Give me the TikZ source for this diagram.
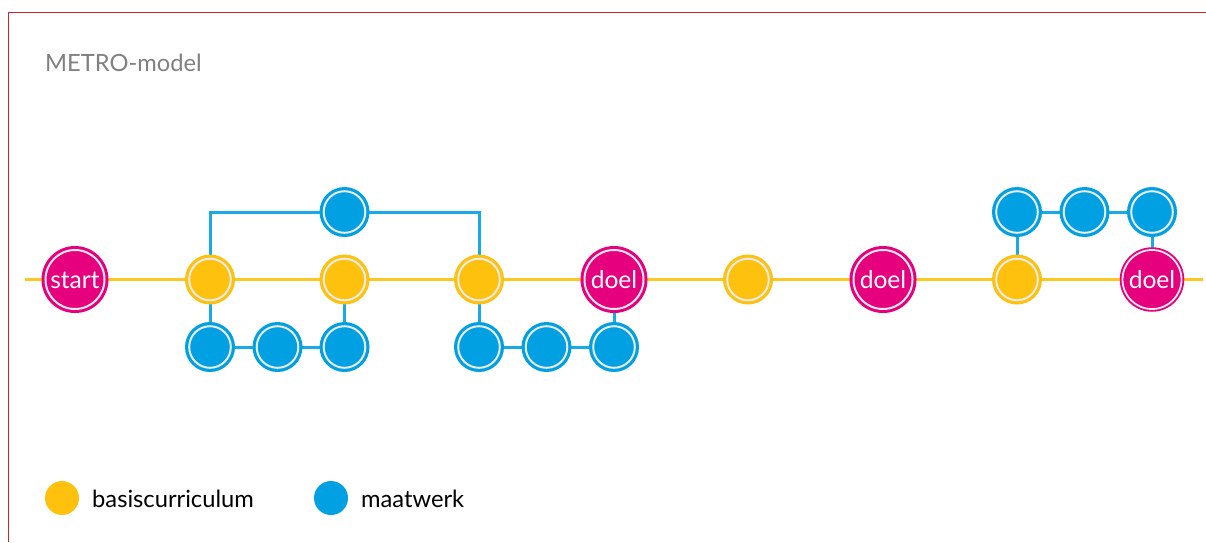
\documentclass[tikz,border=0pt]{standalone}
\usepackage{fontspec}
\setmainfont{Lato}
\usetikzlibrary{backgrounds}
\definecolor{geel}{HTML}{FDC10E}
\definecolor{blauw}{HTML}{00A0E3}
\definecolor{roze}{HTML}{E6007E}
\definecolor{ring}{HTML}{EAEAEA}
\definecolor{rand}{HTML}{D2232A}
\newcommand\halttekst[1]{\raisebox{0pt}[18.4pt][0pt]{#1}}
\tikzset{
  x=1pt,y=-1pt,
  halte/.style={circle,inner sep=0pt,minimum size=#1,line width=0pt,text=white,font=\fontsize{24.6}{26}\selectfont},
  basis/.style={halte=50pt,fill=geel,path picture={\draw[ring,line width=2pt] (path picture bounding box.center) circle (20.8pt);}},
  maat/.style={halte=50pt,fill=blauw,path picture={\draw[ring,line width=2pt] (path picture bounding box.center) circle (20.8pt);}},
  doelnode/.style={halte=67pt,fill=roze,path picture={\draw[ring,line width=2pt] (path picture bounding box.center) circle (29.5pt);}},
  doellaatst/.style={halte=64.5pt,fill=roze,path picture={\draw[ring,line width=1.8pt] (path picture bounding box.center) circle (29.5pt);}},
  hoofd/.style={geel!92!white,line width=3pt},
  zij/.style={blauw!90!white,line width=3pt},
  stip/.style={circle,inner sep=0pt,minimum size=34pt},
  tekst/.style={inner sep=0pt,anchor=base west,font=\fontsize{23.7}{26}\selectfont}
}
\begin{document}
\begin{tikzpicture}
\useasboundingbox (0,0) rectangle (1206,542);
\draw[rand,line width=1pt] (1206,12) -- (8.5,12) -- (8.5,542);
\node[tekst,text=black!50] (titel) at (45,71) {METRO-model};
\coordinate (links) at (25,279.5);
\coordinate (rechts) at (1203,279.5);
\node[doelnode] (start) at (75,279.5) {\halttekst{start}};
\node[basis] (g1) at (210,279.5) {};
\node[basis] (g2) at (344.5,279.5) {};
\node[basis] (g3) at (479,279.5) {};
\node[doelnode] (d1) at (614,279.5) {\halttekst{doel}};
\node[basis] (g4) at (748,279.5) {};
\node[doelnode] (d2) at (883,279.5) {\halttekst{doel}};
\node[basis] (g5) at (1017,279.5) {};
\node[doellaatst] (d3) at (1152,279.5) {\halttekst{doel}};
\node[maat] (t1) at (344.5,212) {};
\node[maat] (b1) at (210,347) {};
\node[maat] (b2) at (277.5,347) {};
\node[maat] (b3) at (344.5,347) {};
\node[maat] (b4) at (479,347) {};
\node[maat] (b5) at (546.5,347) {};
\node[maat] (b6) at (614,347) {};
\node[maat] (r1) at (1017,212) {};
\node[maat] (r2) at (1084.5,212) {};
\node[maat] (r3) at (1152,212) {};
\begin{scope}[on background layer]
\draw[hoofd] (links) -- (rechts);
\draw[zij] (g1.center) |- (t1.center) -| (g3.center);
\draw[zij] (g1.center) -- (b1.center) -- (b2.center) -- (b3.center) -- (g2.center);
\draw[zij] (g3.center) -- (b4.center) -- (b5.center) -- (b6.center) -- (d1.center);
\draw[zij] (g5.center) -- (r1.center) -- (r2.center) -- (r3.center) -- (d3.center);
\end{scope}
\node[stip,fill=geel] (lg) at (62,498) {};
\node[tekst] (lgt) at (92,507) {basiscurriculum};
\node[stip,fill=blauw] (lb) at (331,498) {};
\node[tekst] (lbt) at (361,507) {maatwerk};
\end{tikzpicture}
\end{document}
